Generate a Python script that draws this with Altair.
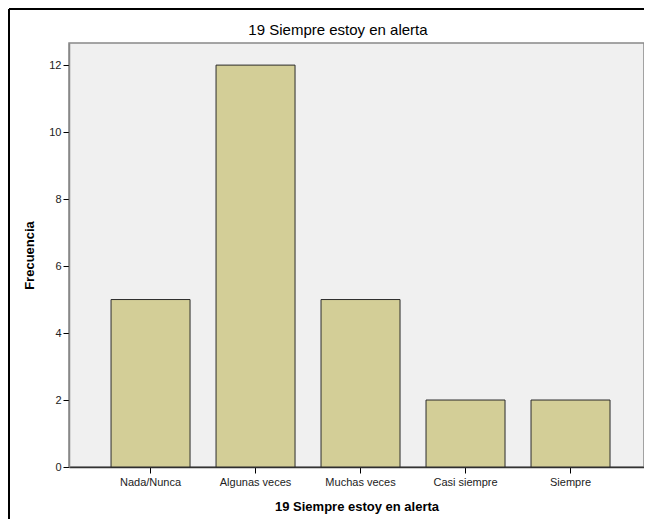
import altair as alt
import pandas as pd

categories = ["Nada/Nunca", "Algunas veces", "Muchas veces", "Casi siempre", "Siempre"]
counts = [5, 12, 5, 2, 2]
y_ticks = [0, 2, 4, 6, 8, 10, 12]
chart_title = "19 Siempre estoy en alerta"

df = pd.DataFrame({"cat": categories, "n": counts})

FONT = "Liberation Sans"

bars = alt.Chart(df).mark_bar(
    fill="#D3CE97", stroke="#2b2b2b", strokeWidth=1
).encode(
    x=alt.X("cat:N", sort=categories,
            scale=alt.Scale(paddingInner=0.2476, paddingOuter=0.362, align=0.553),
            axis=alt.Axis(title=chart_title, labelAngle=0,
                          labelFont=FONT, labelFontSize=11, labelColor="#222222",
                          labelPadding=3, tickSize=6, tickColor="#000000",
                          domainColor="#333333", domainWidth=1.5,
                          titleFont=FONT, titleFontSize=13, titleFontWeight="bold",
                          titleColor="#000000", titlePadding=13)),
    y=alt.Y("n:Q", scale=alt.Scale(domain=[0, 12.66], nice=False),
            axis=alt.Axis(title="Frecuencia", values=y_ticks, grid=False,
                          labelFont=FONT, labelFontSize=11, labelColor="#222222",
                          labelPadding=2, tickSize=6, tickColor="#000000",
                          domainColor="#888888", domainWidth=1.5,
                          titleFont=FONT, titleFontSize=13, titleFontWeight="bold",
                          titleColor="#000000", titlePadding=12)),
)

one = pd.DataFrame({"a": [0]})

frame_top = alt.Chart(one).mark_rule(color="#000000", strokeWidth=2).encode(
    x=alt.value(-60), x2=alt.value(700), y=alt.value(-34)
)
frame_left = alt.Chart(one).mark_rule(color="#000000", strokeWidth=2).encode(
    x=alt.value(-60), y=alt.value(-34), y2=alt.value(600)
)

title = alt.Chart(one).mark_text(
    font=FONT, fontSize=15, color="#000000", align="center", baseline="middle"
).encode(
    x=alt.value(269), y=alt.value(-13), text=alt.value(chart_title)
)

chart = alt.layer(frame_top, frame_left, bars, title).properties(
    width=575, height=424,
    autosize=alt.AutoSizeParams(type="none"),
    padding={"left": 61, "top": 35, "right": 0, "bottom": 52},
    background="#ffffff",
).configure_view(
    fill="#F0F0F0", stroke="#888888", strokeWidth=1.5
)

chart.save("out.html", embed_options={"renderer": "svg", "actions": False})
